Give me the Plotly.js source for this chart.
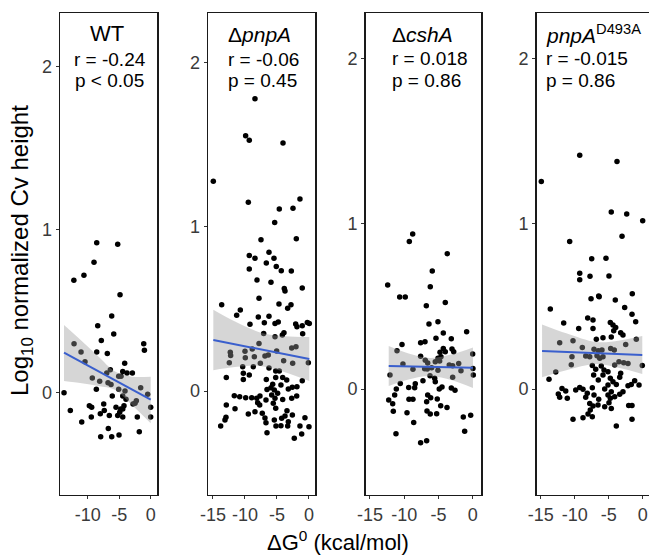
<!DOCTYPE html>
<html><head><meta charset="utf-8">
<script src="https://cdn.plot.ly/plotly-3.0.1.min.js"></script>
<style>html,body{margin:0;padding:0;overflow:hidden;background:#fff}</style>
</head><body><div id="chart"></div>
<script>
// ---------- data ----------
const xTickVals = [-15, -10, -5, 0];
const xTickText = ['-15', '-10', '-5', '0'];
const yTickVals = [0, 1, 2];
const yTickText = ['0', '1', '2'];

const panelTitles = ['WT', 'Δ<i>pnpA</i>', 'Δ<i>cshA</i>', '<i>pnpA</i><sup>D493A</sup>'];
const rLabels = ['r = -0.24', 'r = -0.06', 'r = 0.018', 'r = -0.015'];
const pLabels = ['p < 0.05', 'p = 0.45', 'p = 0.86', 'p = 0.86'];

// WT
const wtX = [-8.57,-5.24,-9.0,-10.6,-12.2,-4.87,-6.19,-8.41,-5.87,-7.84,-1.11,-12.17,-1.0,-11.06,-8.57,-6.89,-10.43,-4.13,-6.41,-4.44,-3.76,-2.91,-6.98,-5.08,-9.27,-4.71,-8.10,-6.78,-6.30,-1.59,-8.63,-5.08,-4.08,-13.76,-0.48,-6.1,-4.44,-3.92,-2.28,-9.74,-7.46,-2.81,-9.37,-5.51,-4.24,-4.76,-4.44,0.0,-12.76,-7.37,-8.0,-4.92,-6.57,-9.43,-5.24,-4.44,-2.13,0.0,-10.95,-6.73,-1.81,-7.94,-6.19,-5.03,-2.49];
const wtY = [0.92,0.91,0.80,0.72,0.69,0.60,0.47,0.41,0.36,0.32,0.30,0.30,0.26,0.25,0.25,0.24,0.19,0.18,0.14,0.13,0.12,0.12,0.12,0.10,0.09,0.10,0.07,0.06,0.05,0.03,0.02,0.02,0.01,0.0,-0.01,-0.02,-0.02,-0.04,-0.05,-0.08,-0.07,-0.07,-0.09,-0.09,-0.08,-0.10,-0.10,-0.09,-0.11,-0.11,-0.13,-0.12,-0.14,-0.15,-0.14,-0.15,-0.15,-0.15,-0.18,-0.22,-0.24,-0.27,-0.27,-0.26,-0.065];
const wtFitX = [-13.76, 0];
const wtFitY = [0.245, -0.043];
const wtBandX = [-13.76, -10.95, -8.3, -5.66, -3.02, 0];
const wtBandHi = [0.415, 0.317, 0.221, 0.129, 0.098, 0.098];
const wtBandLo = [0.072, 0.058, 0.041, 0.017, -0.075, -0.188];

// ΔpnpA
const pnpX = [-8.44,-9.9,-9.33,-4.06,-14.95,-9.48,-1.41,-4.64,-2.5,-5.36,-7.5,-1.98,-9.33,-8.44,-6.25,-5.47,-6.67,-5.11,-9.33,-4.33,-2.76,-8.13,-5.94,-3.86,-3.75,-1.05,-7.81,-13.64,-4.69,-2.81,-10.73,-3.33,-11.3,-7.92,-6.25,-6.98,-5.31,-4.8,-9.22,-2.08,-1.88,-1.05,-0.26,0.05,-7.08,-3.91,-4.17,-0.99,-5.31,-7.81,-2.03,-2.7,-8.86,-10.0,-12.3,-12.24,-12.45,-9.95,-8.54,-6.88,-6.36,-5.05,-3.96,-2.55,-0.1,-7.6,-10.36,-8.7,-6.25,-5.2,-4.64,-10.26,-9.33,-5.2,-4.11,-12.92,-10.26,-6.67,-3.48,-1.05,-5.67,-4.38,-2.61,-1.88,-5.94,-6.56,-5.42,-3.23,-4.9,-5.83,-11.67,-10.83,-9.89,-8.95,-8.17,-7.66,-6.72,-5.31,-4.11,-2.7,-1.92,-8.02,-7.7,-5.58,-12.92,-11.56,-5.2,-9.48,-8.44,-7.3,-3.44,-3.75,-2.6,-0.63,-6.88,-4.27,-5.42,-12.97,-13.13,-3.23,-6.72,-13.8,-5.16,-1.41,-4.38,-3.33,0.0,-6.56,-1.14,-2.3];
const pnpY = [1.78,1.555,1.527,1.51,1.277,1.149,1.169,1.108,1.113,1.027,0.922,0.928,0.826,0.808,0.845,0.808,0.78,0.759,0.743,0.733,0.731,0.676,0.662,0.625,0.609,0.627,0.565,0.526,0.53,0.526,0.493,0.504,0.461,0.451,0.455,0.416,0.412,0.42,0.406,0.408,0.392,0.398,0.418,0.412,0.351,0.355,0.341,0.349,0.331,0.29,0.27,0.262,0.256,0.242,0.236,0.217,0.172,0.203,0.209,0.213,0.219,0.244,0.185,0.169,0.172,0.169,0.148,0.148,0.14,0.122,0.122,0.108,0.097,0.083,0.083,0.083,0.071,0.071,0.067,0.063,0.041,0.037,0.023,0.026,0.02,0.01,0.006,0.012,-0.014,-0.024,-0.029,-0.035,-0.041,-0.041,-0.044,-0.03,-0.055,-0.044,-0.051,-0.044,-0.03,-0.071,-0.085,-0.075,-0.085,-0.108,-0.105,-0.14,-0.126,-0.136,-0.12,-0.152,-0.146,-0.163,-0.164,-0.166,-0.177,-0.16,-0.177,-0.187,-0.193,-0.213,-0.213,-0.213,-0.211,-0.213,-0.217,-0.254,-0.262,-0.288];
const pnpFitX = [-14.95, 0.05];
const pnpFitY = [0.311, 0.195];
const pnpBandX = [-14.95, -11.56, -7.4, -3.75, 0.05];
const pnpBandHi = [0.495, 0.423, 0.354, 0.334, 0.329];
const pnpBandLo = [0.126, 0.146, 0.151, 0.115, 0.061];

// ΔcshA
const cshX = [-8.76,-9.25,-3.71,-5.9,-12.41,-6.19,-10.66,-9.84,-4.0,-6.77,-5.07,-6.38,-0.88,-4.29,-5.36,-3.12,-7.6,-6.96,-10.32,-4.29,-3.02,-11.05,-4.77,-4.0,-2.77,0.0,-7.6,-5.07,-4.63,-6.92,-5.46,-4.82,-6.57,-10.18,-2.04,-3.42,-2.92,-8.72,-7.01,-5.99,-5.07,-6.63,-1.71,0.04,-12.07,0.09,-6.23,-2.92,-5.55,-7.26,-5.46,-10.57,-8.38,-4.48,-9.34,-8.47,-11.15,-4.88,-3.12,-2.58,-11.39,-6.57,-6.13,-12.26,-9.3,-8.72,-6.72,-5.17,-11.68,-4.67,-3.75,-11.59,-9.59,-6.67,-6.19,-5.26,-1.37,-0.29,-8.61,-1.17,-11.2,-7.6,-6.72];
const cshY = [0.938,0.893,0.819,0.714,0.629,0.619,0.557,0.557,0.524,0.504,0.407,0.393,0.347,0.339,0.307,0.304,0.28,0.286,0.27,0.246,0.242,0.232,0.222,0.226,0.226,0.212,0.198,0.186,0.196,0.174,0.165,0.169,0.157,0.151,0.155,0.145,0.141,0.119,0.123,0.129,0.113,0.121,0.111,0.125,0.085,0.085,0.08,0.071,0.065,0.05,0.044,0.034,0.032,0.012,0.01,0.008,0.0,0.0,0.006,-0.008,-0.036,-0.036,-0.053,-0.067,-0.062,-0.062,-0.077,-0.06,-0.089,-0.101,-0.111,-0.135,-0.143,-0.133,-0.151,-0.149,-0.169,-0.159,-0.202,-0.256,-0.27,-0.325,-0.313];
const cshFitX = [-12.26, 0.04];
const cshFitY = [0.139, 0.129];
const cshBandX = [-12.26, -9.34, -6.19, -3.02, 0.04];
const cshBandHi = [0.260, 0.215, 0.188, 0.210, 0.252];
const cshBandLo = [0.018, 0.058, 0.079, 0.053, 0.006];

// pnpA D493A
const d493X = [-9.26,-3.78,-14.91,-4.62,-2.35,0.0,-10.74,-3.04,-7.5,-5.4,-9.26,-9.26,-7.75,-4.96,-1.53,-7.6,-6.47,-6.4,-4.03,-13.59,-2.65,-1.57,-8.09,-7.31,-11.62,-1.03,-4.76,-4.37,-9.41,-7.31,-3.97,-4.26,-3.24,-2.9,-10.25,-6.82,-5.84,-4.62,-0.94,-12.21,-2.5,-8.88,-4.71,-4.18,-7.16,-6.53,-5.99,-10.4,-8.38,-7.79,-6.72,-6.32,-5.84,-3.49,-2.79,-2.16,-0.06,-10.5,-7.41,-6.09,-4.12,-6.91,-5.69,-12.79,-5.1,-3.24,-7.21,-5.84,-3.38,-13.78,-6.53,-4.76,-4.37,-1.18,-5.1,-3.88,-2.16,-1.68,-0.54,-11.87,-9.26,-7.41,-8.78,-5.59,-9.85,-11.32,-4.62,-2.9,-12.41,-8.15,-7.16,-5.1,-3.38,-11.09,-12.21,-8.38,-6.47,-4.76,-4.12,-7.79,-4.96,-7.31,-6.57,-5.59,-4.62,-2.06,-1.57,-7.71,-8.04,-8.78,-10.25,-7.41,-1.57,-3.88];
const d493Y = [1.414,1.377,1.256,1.071,1.059,1.018,0.893,0.924,0.788,0.792,0.7,0.661,0.682,0.684,0.577,0.546,0.563,0.558,0.538,0.484,0.494,0.452,0.43,0.417,0.399,0.407,0.403,0.387,0.367,0.367,0.373,0.353,0.341,0.327,0.292,0.301,0.31,0.315,0.301,0.28,0.27,0.252,0.246,0.236,0.24,0.232,0.236,0.195,0.2,0.195,0.201,0.186,0.195,0.165,0.159,0.155,0.143,0.147,0.143,0.139,0.145,0.119,0.115,0.103,0.105,0.095,0.085,0.085,0.071,0.06,0.054,0.065,0.044,0.05,0.024,0.028,0.02,0.028,0.024,0.004,0.01,0.008,-0.002,0.0,-0.006,-0.012,-0.016,-0.016,-0.03,-0.026,-0.036,-0.036,-0.032,-0.056,-0.05,-0.05,-0.062,-0.056,-0.047,-0.087,-0.083,-0.103,-0.097,-0.107,-0.117,-0.099,-0.099,-0.127,-0.151,-0.174,-0.183,-0.168,-0.183,-0.224];
const d493FitX = [-14.8, -0.06];
const d493FitY = [0.23, 0.206];
const d493BandX = [-14.8, -11.24, -6.82, -3.38, -0.06];
const d493BandHi = [0.391, 0.337, 0.284, 0.294, 0.321];
const d493BandLo = [0.071, 0.113, 0.151, 0.127, 0.091];

// ---------- layout geometry (pixels) ----------
const W = 656, H = 559;
const frames = [[60, 157], [208, 315], [365.7, 481.3], [536.7, 652]];
const frameTop = 13, frameBottom = 494.5;
const xRanges = [[-14.4, 1.0], [-15.78, 0.94], [-15.62, 1.26], [-15.59, 1.37]];
const yRanges = [[-0.625, 2.329], [-0.630, 2.302], [-0.638, 2.275], [-0.638, 2.275]];

const panels = [
  {x: wtX, y: wtY, fx: wtFitX, fy: wtFitY, bx: wtBandX, bh: wtBandHi, bl: wtBandLo},
  {x: pnpX, y: pnpY, fx: pnpFitX, fy: pnpFitY, bx: pnpBandX, bh: pnpBandHi, bl: pnpBandLo},
  {x: cshX, y: cshY, fx: cshFitX, fy: cshFitY, bx: cshBandX, bh: cshBandHi, bl: cshBandLo},
  {x: d493X, y: d493Y, fx: d493FitX, fy: d493FitY, bx: d493BandX, bh: d493BandHi, bl: d493BandLo}
];

const FONT = 'Liberation Sans, Arial, Helvetica, sans-serif';
const traces = [];
const layout = {
  width: W, height: H,
  margin: {l: 0, r: 0, t: 0, b: 0},
  paper_bgcolor: '#fff', plot_bgcolor: '#fff',
  showlegend: false,
  font: {family: FONT, color: '#000'},
  annotations: []
};

panels.forEach((p, i) => {
  const n = i + 1;
  const xa = 'x' + (n === 1 ? '' : n), ya = 'y' + (n === 1 ? '' : n);
  traces.push({type: 'scatter', mode: 'markers', x: p.x, y: p.y, xaxis: xa, yaxis: ya,
    marker: {color: '#000', size: 5.5}, hoverinfo: 'skip'});
  traces.push({type: 'scatter', mode: 'lines', x: p.bx, y: p.bl, xaxis: xa, yaxis: ya,
    line: {width: 0, shape: 'spline'}, hoverinfo: 'skip'});
  traces.push({type: 'scatter', mode: 'lines', x: p.bx, y: p.bh, xaxis: xa, yaxis: ya,
    line: {width: 0, shape: 'spline'}, fill: 'tonexty', fillcolor: 'rgba(153,153,153,0.4)', hoverinfo: 'skip'});
  traces.push({type: 'scatter', mode: 'lines', x: p.fx, y: p.fy, xaxis: xa, yaxis: ya,
    line: {color: '#3a5fcd', width: 2}, hoverinfo: 'skip'});

  // keep only ticks inside this panel's range
  const xr = xRanges[i];
  const xv = [], xt = [];
  xTickVals.forEach((v, k) => { if (v >= xr[0] && v <= xr[1]) { xv.push(v); xt.push(xTickText[k]); } });

  const axCommon = {showline: true, mirror: true, linecolor: '#1a1a1a', linewidth: 1.5,
    ticks: 'outside', ticklen: 3, tickwidth: 1, tickcolor: '#333', showgrid: false, zeroline: false,
    tickfont: {size: 18, color: '#3a3a3a', family: FONT}};
  layout['xaxis' + (n === 1 ? '' : n)] = Object.assign({}, axCommon, {
    domain: [frames[i][0] / W, frames[i][1] / W], range: xRanges[i],
    anchor: ya, tickmode: 'array', tickvals: xv, ticktext: xt});
  layout['yaxis' + (n === 1 ? '' : n)] = Object.assign({}, axCommon, {
    domain: [1 - frameBottom / H, 1 - frameTop / H], range: yRanges[i],
    anchor: xa, tickmode: 'array', tickvals: yTickVals, ticktext: yTickText});
});

// panel labels (pixel positions)
const titlePos = [[88, 34], [226, 35], [390, 35], [544, 34]];
const rPos = [[72, 59], [226, 59], [390, 58], [544, 58]];
const pPos = [[73, 80], [226, 81], [390, 81], [544, 81]];
const titleSize = [22, 21, 21, 21];
function addText(txt, pos, size) {
  layout.annotations.push({text: txt, xref: 'paper', yref: 'paper',
    x: pos[0] / W, y: 1 - pos[1] / H, xanchor: 'left', yanchor: 'middle',
    showarrow: false, font: {size: size, color: '#000', family: FONT}});
}
panelTitles.forEach((t, i) => addText(t, titlePos[i], titleSize[i]));
rLabels.forEach((t, i) => addText(t, rPos[i], 19));
pLabels.forEach((t, i) => addText(t, pPos[i], 19));

// axis titles
layout.annotations.push({text: 'Log<sub>10</sub> normalized Cv height', xref: 'paper', yref: 'paper',
  x: 22 / W, y: 1 - 251 / H, xanchor: 'center', yanchor: 'middle', textangle: -90,
  showarrow: false, font: {size: 24, color: '#000', family: FONT}});
layout.annotations.push({text: 'ΔG<sup>0</sup> (kcal/mol)', xref: 'paper', yref: 'paper',
  x: 338 / W, y: 1 - 541 / H, xanchor: 'center', yanchor: 'middle',
  showarrow: false, font: {size: 22, color: '#000', family: FONT}});

Plotly.newPlot('chart', traces, layout, {staticPlot: true, displayModeBar: false});
</script>
</body></html>
